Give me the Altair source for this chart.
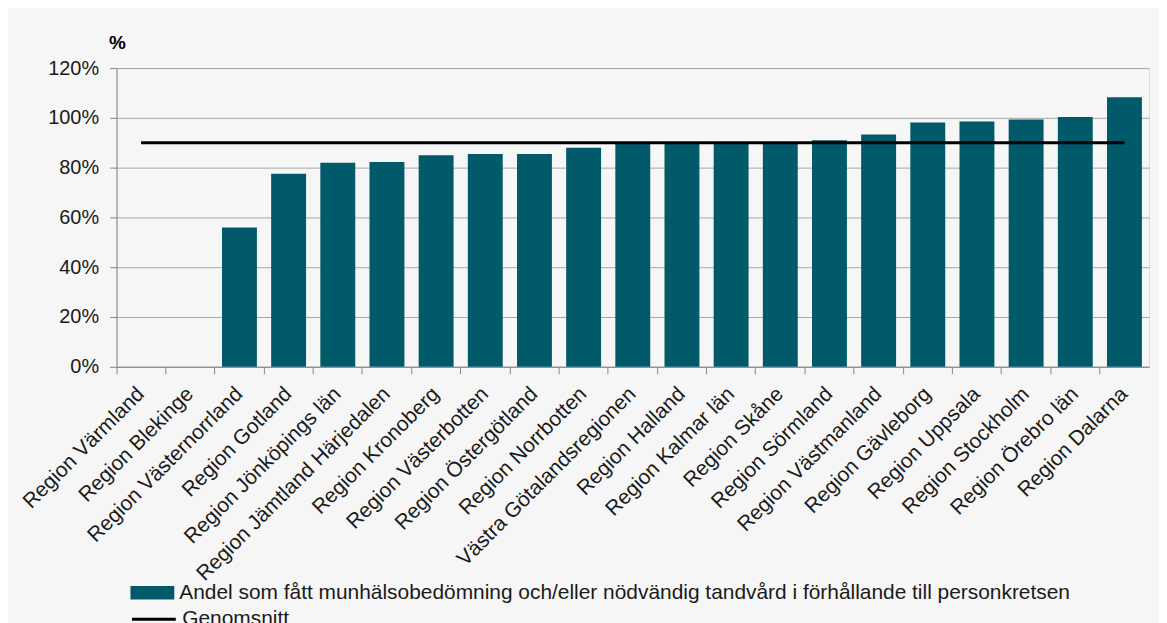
import altair as alt
import pandas as pd

regions = [
    "Region Värmland", "Region Blekinge", "Region Västernorrland", "Region Gotland",
    "Region Jönköpings län", "Region Jämtland Härjedalen", "Region Kronoberg",
    "Region Västerbotten", "Region Östergötland", "Region Norrbotten",
    "Västra Götalandsregionen", "Region Halland", "Region Kalmar län", "Region Skåne",
    "Region Sörmland", "Region Västmanland", "Region Gävleborg", "Region Uppsala",
    "Region Stockholm", "Region Örebro län", "Region Dalarna",
]
values = [None, None, 0.56, 0.775, 0.82, 0.823, 0.85, 0.855, 0.855, 0.88,
          0.898, 0.898, 0.899, 0.899, 0.91, 0.933, 0.981, 0.985, 0.993, 1.003, 1.083]
average = 0.90
y_ticks = [0, 0.2, 0.4, 0.6, 0.8, 1.0, 1.2]
bar_label = "Andel som fått munhälsobedömning och/eller nödvändig tandvård i förhållande till personkretsen"
line_label = "Genomsnitt"

FONT = "Liberation Sans"
TEAL = "#005a69"
AXIS_GRAY = "#868686"

bars_df = pd.DataFrame({"region": regions, "value": values, "serie": [bar_label] * len(regions)})
avg_df = pd.DataFrame({"region": regions, "avg": [average] * len(regions), "serie": [line_label] * len(regions)})

x_enc = alt.X(
    "region:N", sort=regions, title=None,
    scale=alt.Scale(paddingInner=0, paddingOuter=0),
    axis=alt.Axis(
        labelAngle=-45, labelAlign="right", labelBaseline="middle",
        labelFontSize=21, labelColor="#1a1a1a", labelFont=FONT, labelPadding=17,
        bandPosition=0, ticks=True, tickSize=7, tickColor=AXIS_GRAY,
        domainColor=AXIS_GRAY, grid=False, labelLimit=400,
    ),
)

bars = alt.Chart(bars_df).mark_bar(width=alt.RelativeBandSize(0.71)).encode(
    x=x_enc,
    y=alt.Y(
        "value:Q", title="%",
        scale=alt.Scale(domain=[0, 1.2], nice=False),
        axis=alt.Axis(
            values=y_ticks, format=".0%", labelFontSize=20, labelColor="#1a1a1a",
            labelFont=FONT, tickSize=7, tickColor=AXIS_GRAY, domainColor=AXIS_GRAY,
            gridColor="#a6a6a6", labelPadding=11,
            titleAngle=0, titleAlign="left", titleBaseline="alphabetic",
            titleX=-8, titleY=-20, titleFontSize=19, titleFontWeight="bold",
            titleFont=FONT, titleColor="#000000",
        ),
    ),
    color=alt.Color(
        "serie:N", scale=alt.Scale(range=[TEAL]),
        legend=alt.Legend(
            orient="none", legendX=14, legendY=505, title=None,
            symbolType="M-1,-0.31H1V0.31H-1Z", symbolSize=1936,
            symbolStrokeWidth=0, symbolOpacity=1,
            labelFontSize=21, labelFont=FONT, labelColor="#1a1a1a",
            labelLimit=1200, labelOffset=5,
        ),
    ),
)

line = alt.Chart(avg_df).mark_line(strokeWidth=3).encode(
    x=alt.X("region:N", sort=regions),
    y=alt.Y("avg:Q"),
    stroke=alt.Stroke(
        "serie:N", scale=alt.Scale(range=["#000000"]),
        legend=alt.Legend(
            orient="none", legendX=14, legendY=530, title=None,
            symbolType="stroke", symbolSize=1936, symbolStrokeWidth=3,
            labelFontSize=21, labelFont=FONT, labelColor="#1a1a1a",
            labelLimit=1200, labelOffset=5,
        ),
    ),
)

chart = alt.layer(bars, line).properties(
    width=1037, height=300,
    autosize=alt.AutoSizeParams(type="none"),
    padding={"left": 109, "top": 59, "right": 10, "bottom": 256},
    background="#f6f6f6",
).configure_view(strokeWidth=0).configure(font=FONT)

chart.save("out.html", embed_options={"renderer": "svg", "actions": False})
